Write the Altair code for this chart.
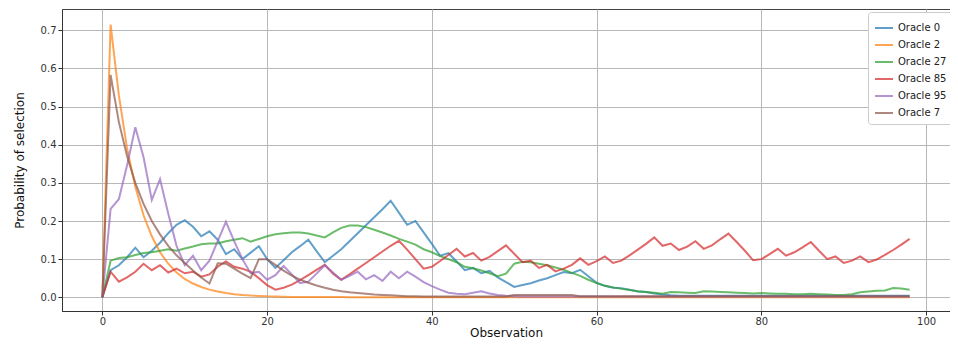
import altair as alt
import pandas as pd

observations = list(range(99))

oracle_0 = [0, 0.071, 0.084, 0.105, 0.13, 0.105, 0.122, 0.143, 0.168, 0.19,
            0.202, 0.185, 0.16, 0.173, 0.151, 0.113, 0.126, 0.1, 0.117, 0.134,
            0.1, 0.077, 0.097, 0.118, 0.134, 0.151, 0.121, 0.092, 0.109, 0.126,
            0.147, 0.168, 0.189, 0.21, 0.231, 0.253, 0.222, 0.19, 0.2, 0.17,
            0.14, 0.109, 0.116, 0.094, 0.071, 0.077, 0.063, 0.069, 0.052, 0.04,
            0.027, 0.032, 0.037, 0.044, 0.05, 0.058, 0.066, 0.063, 0.072, 0.055,
            0.038, 0.03, 0.025, 0.024, 0.02, 0.015, 0.014, 0.01, 0.007, 0.005,
            0.004, 0.004, 0.004, 0.004, 0.004, 0.004, 0.004, 0.004, 0.004, 0.004,
            0.004, 0.004, 0.004, 0.004, 0.004, 0.004, 0.004, 0.004, 0.004, 0.004,
            0.004, 0.004, 0.004, 0.004, 0.004, 0.004, 0.004, 0.004, 0.004]

oracle_2 = [0, 0.715, 0.53, 0.39, 0.29, 0.215, 0.16, 0.118, 0.088, 0.065,
            0.048, 0.036, 0.027, 0.02, 0.015, 0.011, 0.008, 0.006, 0.0045, 0.0035,
            0.0025, 0.002, 0.0015, 0.001, 0.001, 0.001, 0.001, 0.001, 0.001, 0.001,
            0, 0, 0, 0, 0, 0, 0, 0, 0, 0,
            0, 0, 0, 0, 0, 0, 0, 0, 0, 0,
            0, 0, 0, 0, 0, 0, 0, 0, 0, 0,
            0, 0, 0, 0, 0, 0, 0, 0, 0, 0,
            0, 0, 0, 0, 0, 0, 0, 0, 0, 0,
            0, 0, 0, 0, 0, 0, 0, 0, 0, 0,
            0, 0, 0, 0, 0, 0, 0, 0, 0]

oracle_27 = [0, 0.096, 0.103, 0.105, 0.111, 0.116, 0.118, 0.122, 0.126, 0.122,
             0.128, 0.133, 0.139, 0.141, 0.141, 0.147, 0.151, 0.155, 0.146, 0.153,
             0.16, 0.165, 0.168, 0.17, 0.17, 0.167, 0.162, 0.157, 0.17, 0.182,
             0.188, 0.188, 0.184, 0.177, 0.17, 0.162, 0.153, 0.146, 0.138, 0.126,
             0.118, 0.108, 0.1, 0.092, 0.08, 0.076, 0.07, 0.063, 0.055, 0.062,
             0.088, 0.093, 0.092, 0.088, 0.084, 0.078, 0.072, 0.064, 0.056, 0.046,
             0.037, 0.03, 0.026, 0.022, 0.019, 0.016, 0.014, 0.012, 0.009, 0.014,
             0.013, 0.012, 0.011, 0.016, 0.015, 0.014, 0.013, 0.012, 0.011, 0.01,
             0.011, 0.01, 0.009, 0.009, 0.008, 0.008, 0.009, 0.008, 0.007, 0.006,
             0.006, 0.008, 0.013, 0.015, 0.017, 0.018, 0.024, 0.023, 0.02]

oracle_85 = [0, 0.067, 0.041, 0.052, 0.067, 0.088, 0.071, 0.084, 0.065, 0.075,
             0.063, 0.067, 0.054, 0.06, 0.08, 0.094, 0.08, 0.075, 0.067, 0.05,
             0.032, 0.02, 0.025, 0.033, 0.045, 0.058, 0.072, 0.085, 0.062, 0.046,
             0.06, 0.075, 0.09, 0.105, 0.12, 0.135, 0.148, 0.125, 0.1, 0.075,
             0.08, 0.095, 0.111, 0.127, 0.107, 0.116, 0.096, 0.106, 0.121, 0.136,
             0.114, 0.092, 0.096, 0.077, 0.085, 0.068, 0.075, 0.085, 0.102, 0.085,
             0.095, 0.107, 0.09, 0.096, 0.11, 0.125, 0.14, 0.157, 0.135, 0.141,
             0.124, 0.133, 0.147, 0.127, 0.136, 0.152, 0.167, 0.145, 0.122, 0.097,
             0.1, 0.113, 0.127, 0.109, 0.118, 0.131, 0.145, 0.122, 0.1, 0.107,
             0.09, 0.096, 0.107, 0.092, 0.099, 0.111, 0.124, 0.138, 0.153]

oracle_95 = [0, 0.232, 0.257, 0.346, 0.446, 0.367, 0.255, 0.31, 0.219, 0.135,
             0.084, 0.109, 0.071, 0.096, 0.147, 0.198, 0.147, 0.1, 0.063, 0.067,
             0.046, 0.058, 0.082, 0.06, 0.037, 0.041, 0.062, 0.084, 0.065, 0.046,
             0.056, 0.067, 0.047, 0.058, 0.043, 0.067, 0.05, 0.067, 0.054, 0.04,
             0.029, 0.02, 0.012, 0.009, 0.008, 0.012, 0.016, 0.01, 0.006, 0.004,
             0.003, 0.002, 0.002, 0.002, 0.002, 0.002, 0.002, 0.002, 0.002, 0.002,
             0.002, 0.002, 0.002, 0.002, 0.002, 0.002, 0.002, 0.002, 0.002, 0.002,
             0.002, 0.002, 0.002, 0.002, 0.002, 0.002, 0.002, 0.002, 0.002, 0.002,
             0.002, 0.002, 0.002, 0.002, 0.002, 0.002, 0.002, 0.002, 0.002, 0.002,
             0.002, 0.002, 0.002, 0.002, 0.002, 0.002, 0.002, 0.002, 0.002]

oracle_7 = [0, 0.583, 0.46, 0.37, 0.3, 0.245, 0.2, 0.165, 0.135, 0.11,
            0.09, 0.07, 0.052, 0.036, 0.089, 0.088, 0.075, 0.062, 0.05, 0.1,
            0.1, 0.085, 0.07, 0.057, 0.046, 0.038, 0.031, 0.025, 0.02, 0.016,
            0.013, 0.011, 0.009, 0.007, 0.006, 0.005, 0.004, 0.003, 0.003, 0.002,
            0.002, 0.002, 0.002, 0.002, 0.002, 0.002, 0.002, 0.002, 0.002, 0.002,
            0.006, 0.006, 0.006, 0.006, 0.006, 0.006, 0.006, 0.006, 0.003, 0.003,
            0.003, 0.003, 0.003, 0.003, 0.003, 0.003, 0.003, 0.003, 0.003, 0.003,
            0.003, 0.003, 0.003, 0.003, 0.003, 0.003, 0.003, 0.003, 0.003, 0.003,
            0.003, 0.003, 0.003, 0.003, 0.003, 0.003, 0.003, 0.003, 0.003, 0.003,
            0.003, 0.003, 0.003, 0.003, 0.003, 0.003, 0.003, 0.003, 0.003]

series_names = ["Oracle 0", "Oracle 2", "Oracle 27", "Oracle 85", "Oracle 95", "Oracle 7"]
series_values = [oracle_0, oracle_2, oracle_27, oracle_85, oracle_95, oracle_7]
colors = ["#1f77b4", "#ff7f0e", "#2ca02c", "#d62728", "#9467bd", "#8c564b"]
x_ticks = [0, 20, 40, 60, 80, 100]
y_ticks = [0.0, 0.1, 0.2, 0.3, 0.4, 0.5, 0.6, 0.7]

rows = []
for k, (name, vals) in enumerate(zip(series_names, series_values)):
    for i, v in zip(observations, vals):
        rows.append({"Observation": i, "p": v, "Oracle": name, "order": k})
df = pd.DataFrame(rows)

chart = alt.Chart(df).mark_line(strokeWidth=2, opacity=0.7).encode(
    x=alt.X("Observation:Q",
            scale=alt.Scale(domain=[-4.9, 102.9], nice=False, zero=False),
            axis=alt.Axis(values=x_ticks, title="Observation", format="d",
                          titlePadding=1, labelPadding=1)),
    y=alt.Y("p:Q",
            scale=alt.Scale(domain=[-0.036, 0.756], nice=False, zero=False),
            axis=alt.Axis(values=y_ticks, title="Probability of selection",
                          format=".1f", titlePadding=14)),
    color=alt.Color("Oracle:N",
                    scale=alt.Scale(domain=series_names, range=colors),
                    legend=alt.Legend(title=None, orient="none", legendX=806,
                                      legendY=3, symbolType="stroke",
                                      symbolSize=324, symbolStrokeWidth=2,
                                      symbolOpacity=0.7, labelFontSize=10,
                                      rowPadding=2, padding=6,
                                      strokeColor="#cccccc", fillColor="white",
                                      cornerRadius=3, labelFont="DejaVu Sans",
                                      labelColor="#222222")),
    detail="order:O",
).properties(
    width=888,
    height=302,
    autosize=alt.AutoSizeParams(type="none"),
    padding={"left": 54, "top": 1, "right": 0, "bottom": 31},
).configure_view(
    stroke="#444444", strokeWidth=1
).configure_axis(
    grid=True, gridColor="#b8b8b8", gridWidth=1,
    domainColor="#333333", tickColor="#333333", tickSize=4,
    labelFont="DejaVu Sans", labelFontSize=10, labelColor="#333333",
    titleFont="DejaVu Sans", titleFontSize=12, titleFontWeight="normal",
    titleColor="#111111", labelPadding=2
)

chart.save("out.html", embed_options={"renderer": "svg", "actions": False})
